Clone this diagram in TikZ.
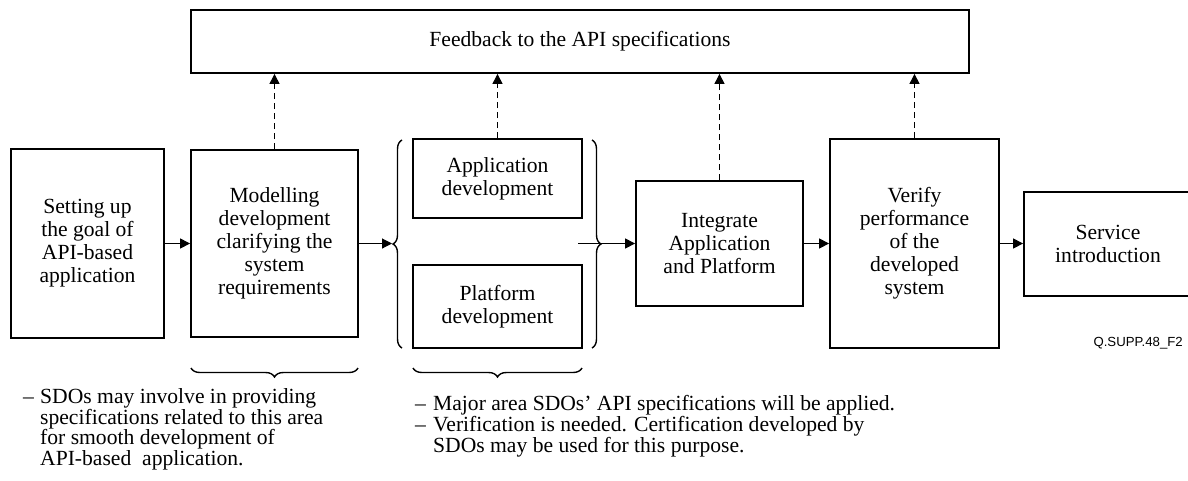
\documentclass[tikz,border=0pt]{standalone}
\usepackage{fontspec}
\setmainfont{Liberation Serif}
\newfontfamily\dgsansfont{Liberation Sans}
\usetikzlibrary{arrows.meta,decorations.pathreplacing}
\newcommand\dgboxfont{\fontsize{21.6}{23}\selectfont}
\newcommand\dgnotefont{\fontsize{21.6}{18.8}\selectfont}
\begin{document}
\begin{tikzpicture}[x=1pt,y=-1pt,
  box/.style={draw, line width=1.8pt, align=center, font=\dgboxfont, inner sep=0pt},
  arr/.style={line width=1.1pt, -{Triangle[length=10pt,width=10pt]}},
  fb/.style={line width=1pt, dash pattern=on 6pt off 4pt, -{Triangle[length=10pt,width=10pt]}},
  br/.style={line width=1.4pt, decorate, decoration={brace, amplitude=9pt}},
  note/.style={anchor=north west, align=left, inner sep=0pt, font=\dgnotefont}
]
\useasboundingbox (0,0) rectangle (1188,480);

\node[box, minimum width=778pt, minimum height=63pt] (top) at (580,41.5) {Feedback to the API specifications};

\node[box, minimum width=153pt, minimum height=189pt] (b1) at (87.5,243.5) {Setting up\\the goal of\\API-based\\application};
\node[box, minimum width=167pt, minimum height=187pt] (b2) at (274.5,243.5) {Modelling\\development\\clarifying the\\system\\requirements};
\node[box, minimum width=169pt, minimum height=79pt] (app) at (497.5,178.5) {Application\\development};
\node[box, minimum width=169pt, minimum height=83pt] (plat) at (497.5,306.5) {Platform\\development};
\node[box, minimum width=167pt, minimum height=125pt] (int) at (719.5,243.5) {Integrate\\Application\\and Platform};
\node[box, minimum width=169pt, minimum height=209pt] (ver) at (914.5,243.5) {Verify\\performance\\of the\\developed\\system};
\node[box, minimum width=168pt, minimum height=104pt] (svc) at (1108,244) {Service\\introduction};

% braces around the two development boxes
\draw[br] (402,348) -- (402,140);
\draw[br] (592,140) -- (592,348);
\coordinate (ltip) at (392,243.5);
\coordinate (rin) at (578,243.5);

% main flow
\draw[arr] (b1.east) -- (b2.west);
\draw[arr] (b2.east) -- (ltip);
\draw[arr] (rin) -- (int.west);
\draw[arr] (int.east) -- (ver.west);
\draw[arr] (ver.east) -- (ver.east -| svc.west);

% feedback arrows
\draw[fb] (b2.north) -- (b2.north |- top.south);
\draw[fb] (app.north) -- (app.north |- top.south);
\draw[fb] (int.north) -- (int.north |- top.south);
\draw[fb] (ver.north) -- (ver.north |- top.south);

% underbraces
\draw[br] (358,368) -- (191,368);
\draw[br] (582,368) -- (413,368);

\node[note] (n1) at (23,388) {\makebox[17pt][l]{–}SDOs may involve in providing\\\hspace*{17pt}specifications related to this area\\\hspace*{17pt}for smooth development of\\\hspace*{17pt}API-based\ \ application.};
\node[note] (n2) at (415,395) {\makebox[18pt][l]{–}Major area SDOs’ API specifications will be applied.\\\makebox[18pt][l]{–}Verification is needed. Certification developed by\\\hspace*{18pt}SDOs may be used for this purpose.};

\node[anchor=east, inner sep=0pt, font=\dgsansfont\fontsize{13.2}{15}\selectfont] (qs) at (1183,343) {Q.SUPP.48\_F2};
\end{tikzpicture}
\end{document}
